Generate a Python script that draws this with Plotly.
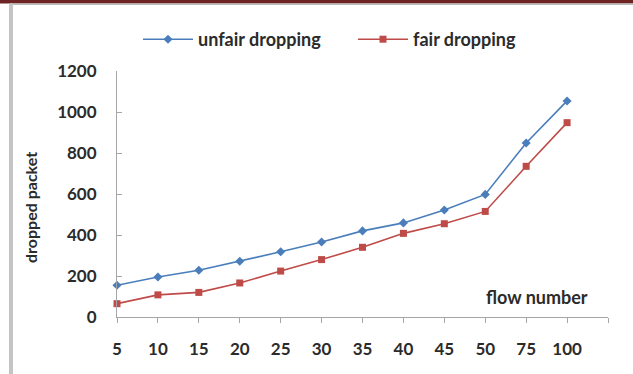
import plotly.graph_objects as go

flow_numbers = ["5", "10", "15", "20", "25", "30", "35", "40", "45", "50", "75", "100"]
unfair_dropping = [155, 195, 228, 272, 318, 366, 420, 459, 522, 598, 849, 1054]
fair_dropping = [65, 108, 120, 166, 224, 280, 340, 408, 455, 515, 735, 948]
y_ticks = [0, 200, 400, 600, 800, 1000, 1200]

W, H = 633, 374
L, R, T, B = 117, 25, 71, 57
PW, PH = W - L - R, H - T - B

def px(x):
    return (x - L) / PW

def py(y):
    return (H - B - y) / PH

idx = list(range(len(flow_numbers)))
FONT = "Lato"
TXT = "#2b2b2b"

fig = go.Figure()
fig.add_trace(go.Scatter(
    x=idx, y=unfair_dropping, name="unfair dropping", mode="lines+markers",
    line=dict(color="#4a7ebb", width=1.6),
    marker=dict(symbol="diamond", size=7, color="#4a7ebb"),
    cliponaxis=False,
))
fig.add_trace(go.Scatter(
    x=idx, y=fair_dropping, name="fair dropping", mode="lines+markers",
    line=dict(color="#be4b48", width=1.6),
    marker=dict(symbol="square", size=7, color="#be4b48"),
    cliponaxis=False,
))

fig.update_layout(
    width=W, height=H,
    margin=dict(l=L, r=R, t=T, b=B, pad=0),
    paper_bgcolor="white", plot_bgcolor="white",
    font=dict(family=FONT, size=18, color=TXT, weight="bold"),
    showlegend=True,
    legend=dict(
        orientation="h", x=px(138), y=py(21), xanchor="left", yanchor="top",
        font=dict(family=FONT, size=18, color=TXT, weight="bold"),
        itemwidth=50, entrywidth=150, entrywidthmode="pixels",
        bgcolor="rgba(0,0,0,0)",
    ),
    xaxis=dict(
        range=[0, len(flow_numbers)], tickvals=idx + [len(flow_numbers)],
        ticktext=flow_numbers + [""],
        showgrid=False, zeroline=False, showline=True,
        linecolor="#a6a6a6", linewidth=1,
        ticks="outside", ticklen=5, tickcolor="#a6a6a6",
        tickfont=dict(family=FONT, size=17, color=TXT, weight="bold"),
        ticklabelstandoff=12,
    ),
    yaxis=dict(
        range=[0, 1200], tickvals=y_ticks,
        showgrid=False, zeroline=False, showline=True,
        linecolor="#a6a6a6", linewidth=1,
        ticks="inside", ticklen=5, tickcolor="#a6a6a6",
        tickfont=dict(family=FONT, size=17, color=TXT, weight="bold"),
        ticklabelstandoff=16,
    ),
    annotations=[
        dict(text="flow number", x=px(537), y=py(297), xref="paper", yref="paper",
             showarrow=False, xanchor="center", yanchor="middle",
             font=dict(family=FONT, size=18, color=TXT, weight="bold")),
        dict(text="dropped packet", x=px(30), y=py(208), xref="paper", yref="paper",
             showarrow=False, xanchor="center", yanchor="middle", textangle=-90,
             font=dict(family=FONT, size=16, color=TXT, weight="bold")),
    ],
    shapes=[
        dict(type="rect", xref="paper", yref="paper", x0=px(0), x1=px(W), y0=py(0), y1=py(3.5),
             fillcolor="#6f2424", line=dict(width=0), layer="above"),
        dict(type="rect", xref="paper", yref="paper", x0=px(9), x1=px(W), y0=py(3.5), y1=py(5),
             fillcolor="#bdbdbd", line=dict(width=0), layer="above"),
        dict(type="rect", xref="paper", yref="paper", x0=px(9), x1=px(13), y0=py(3.5), y1=py(H),
             fillcolor="#c4c4c4", line=dict(width=0), layer="above"),
    ],
)

fig.write_html("out.html")
